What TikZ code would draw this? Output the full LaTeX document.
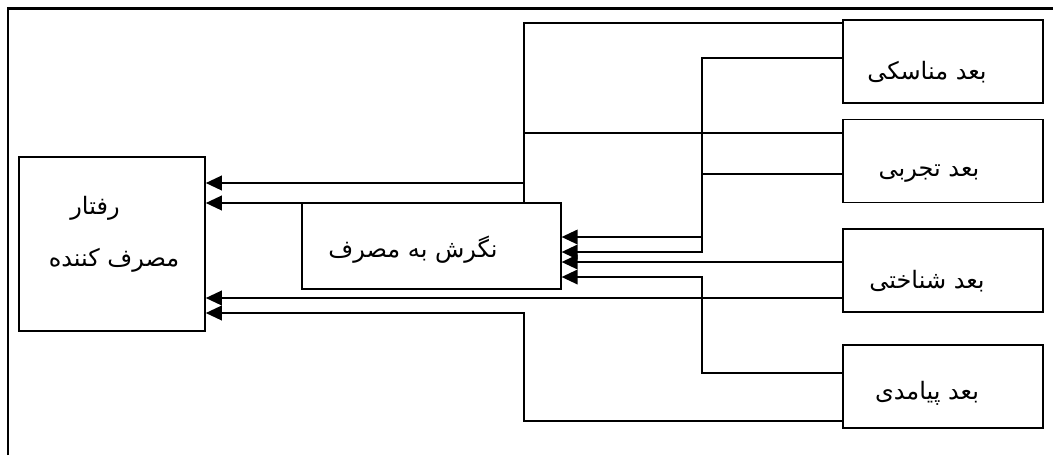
\documentclass[tikz,border=0pt]{standalone}
\usepackage{fontspec}
\newfontfamily\arabicfont[Script=Arabic]{DejaVu Sans}
\TeXXeTstate=1
\usetikzlibrary{arrows.meta}

\begin{document}
\begin{tikzpicture}[x=0.75pt,y=-0.75pt]
\tikzstyle{dim}=[rectangle, draw=black, line width=1.2pt, minimum width=150pt, minimum height=62pt]
\tikzstyle{main}=[rectangle, draw=black, line width=1.2pt]
\tikzstyle{txt}=[font=\arabicfont\fontsize{18}{22}\selectfont]
\tikzstyle{connect}=[-{Triangle[length=12pt,width=11pt]}, line width=1.2pt]
\useasboundingbox (0,0) rectangle (1053,455);
\draw[line width=1.6pt] (8,455) -- (8,8.5) -- (1053,8.5);
  \node[main, minimum width=139.5pt, minimum height=130.5pt] (behav) at (112,244) {};
  \node[txt] (behavt1) at (95,208) {\beginR رفتار\endR};
  \node[txt] (behavt2) at (114,260) {\beginR مصرف کننده\endR};
  \node[main, minimum width=194pt, minimum height=64.5pt] (att) at (431.5,246) {};
  \node[txt] (attt) at (413,250) {\beginR نگرش به مصرف\endR};
  \node[dim] (m1) at (943,61.5) {};
  \node[txt] (m1t) at (927,72) {\beginR بعد مناسکی\endR};
  \node[dim] (m2) at (943,161) {};
  \node[txt] (m2t) at (929,174) {\beginR بعد تجربی\endR};
  \node[dim] (m3) at (943,270.5) {};
  \node[txt] (m3t) at (927,281) {\beginR بعد شناختی\endR};
  \node[dim] (m4) at (943,386.5) {};
  \node[txt] (m4t) at (927,393) {\beginR بعد پیامدی\endR};
  % to the behaviour box
  \draw[connect] (m1.west |- 0,23) -| (524,203) -- (behav.east |- 0,203);
  \draw[connect] (m2.west |- 0,133) -| (524,183) -- (behav.east |- 0,183);
  \draw[connect] (m3.west |- 0,298) -- (behav.east |- 0,298);
  \draw[connect] (m4.west |- 0,421) -| (524,313) -- (behav.east |- 0,313);
  % to the attitude box
  \draw[connect] (m1.west |- 0,58) -| (702,252) -- (att.east |- 0,252);
  \draw[connect] (m2.west |- 0,174) -| (702,237) -- (att.east |- 0,237);
  \draw[connect] (m3.west |- 0,262) -- (att.east |- 0,262);
  \draw[connect] (m4.west |- 0,373) -| (702,277) -- (att.east |- 0,277);
\end{tikzpicture}
\end{document}
